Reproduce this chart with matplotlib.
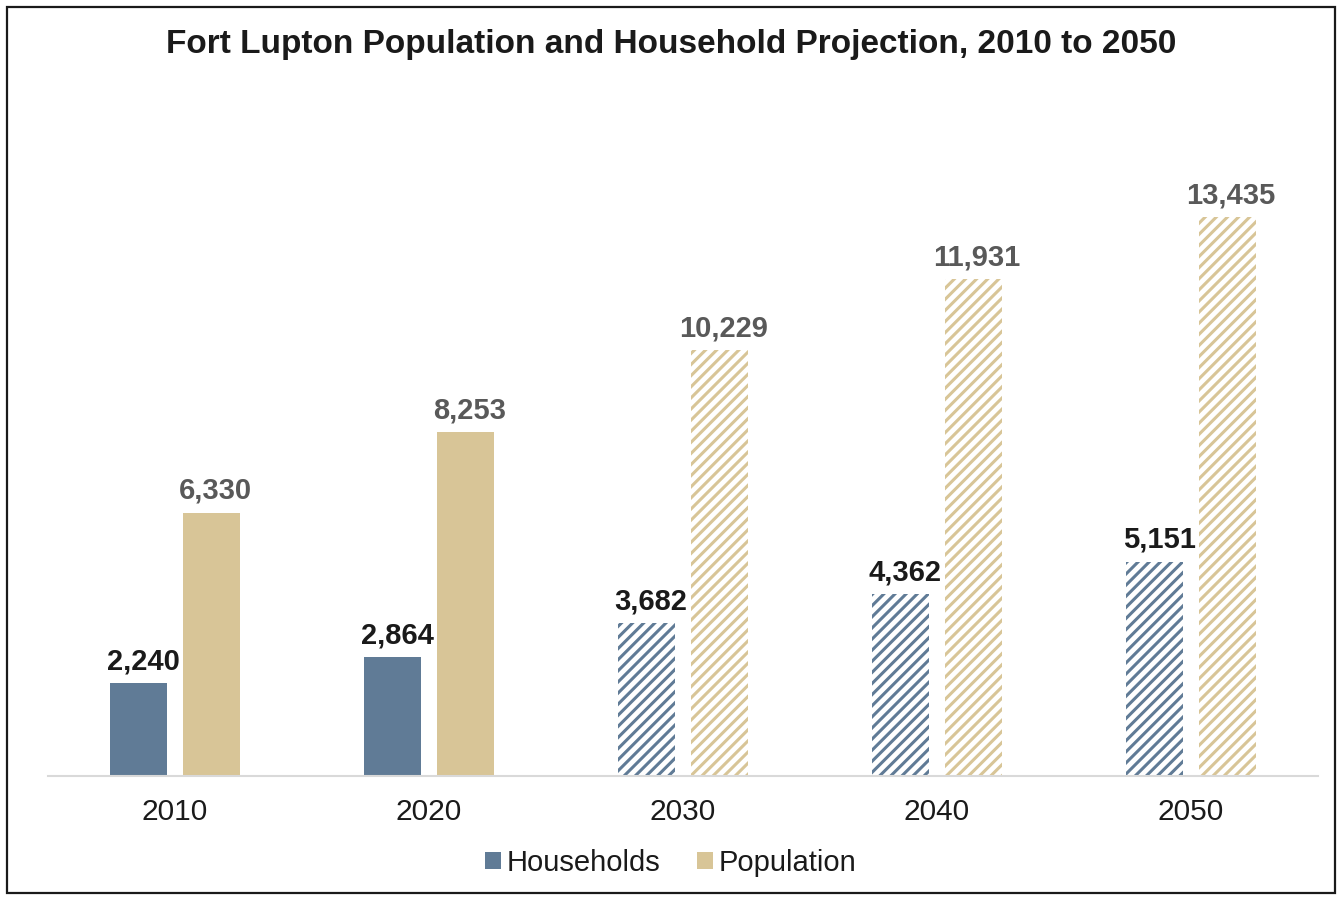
import matplotlib
matplotlib.use("Agg")
import matplotlib.pyplot as plt
from matplotlib.patches import Patch, Rectangle
import numpy as np

plt.rcParams['font.family'] = ['Liberation Sans', 'DejaVu Sans']
plt.rcParams['hatch.linewidth'] = 2.2

years = ["2010", "2020", "2030", "2040", "2050"]
households = [2240, 2864, 3682, 4362, 5151]
population = [6330, 8253, 10229, 11931, 13435]
projected = [False, False, True, True, True]

hh_color = "#607B96"
pop_color = "#D8C597"

fig = plt.figure(figsize=(13.42, 8.97), dpi=100)
ax = fig.add_axes([48 / 1342, 1 - 776 / 897, 1270 / 1342, 666 / 897])

x = np.arange(len(years))
offset = 0.142
width = 0.224

for i, (h, p, proj) in enumerate(zip(households, population, projected)):
    if proj:
        ax.bar(x[i] - offset, h, width, facecolor="white", edgecolor=hh_color,
               hatch="///", linewidth=0)
        ax.bar(x[i] + offset, p, width, facecolor="white", edgecolor=pop_color,
               hatch="///", linewidth=0)
    else:
        ax.bar(x[i] - offset, h, width, color=hh_color, linewidth=0)
        ax.bar(x[i] + offset, p, width, color=pop_color, linewidth=0)
    ax.annotate(f"{h:,}", (x[i] - offset, h), xytext=(3, 5.5), textcoords="offset points",
                ha="center", va="bottom", fontsize=21, fontweight="bold", color="#1a1a1a")
    ax.annotate(f"{p:,}", (x[i] + offset, p), xytext=(3, 5.5), textcoords="offset points",
                ha="center", va="bottom", fontsize=21, fontweight="bold", color="#595959")

ax.set_xlim(-0.5, 4.5)
ax.set_ylim(0, 16000)
ax.set_xticks(x)
ax.set_xticklabels(years, fontsize=21.5, color="#1a1a1a")
ax.tick_params(axis="x", length=0, pad=16)
ax.set_yticks([])
for s in ["top", "right", "left"]:
    ax.spines[s].set_visible(False)
ax.spines["bottom"].set_color("#D9D9D9")
ax.spines["bottom"].set_linewidth(1.5)

fig.text(0.5, 1 - 44 / 897, "Fort Lupton Population and Household Projection, 2010 to 2050",
         ha="center", va="center", fontsize=24, fontweight="bold", color="#1a1a1a")

handles = [Patch(facecolor=hh_color, label="Households"),
           Patch(facecolor=pop_color, label="Population")]
fig.legend(handles=handles, loc="center", bbox_to_anchor=(0.5, 1 - 863 / 897),
           ncol=2, frameon=False, fontsize=21, handlelength=0.55, handleheight=0.55,
           handletextpad=0.2, columnspacing=1.25, labelcolor="#1a1a1a")

fig.patches.append(Rectangle((7 / 1342, 4 / 897), 1328 / 1342, 886 / 897,
                             transform=fig.transFigure, fill=False,
                             edgecolor="#1a1a1a", linewidth=1.6))

fig.savefig("out.png", dpi=100)
